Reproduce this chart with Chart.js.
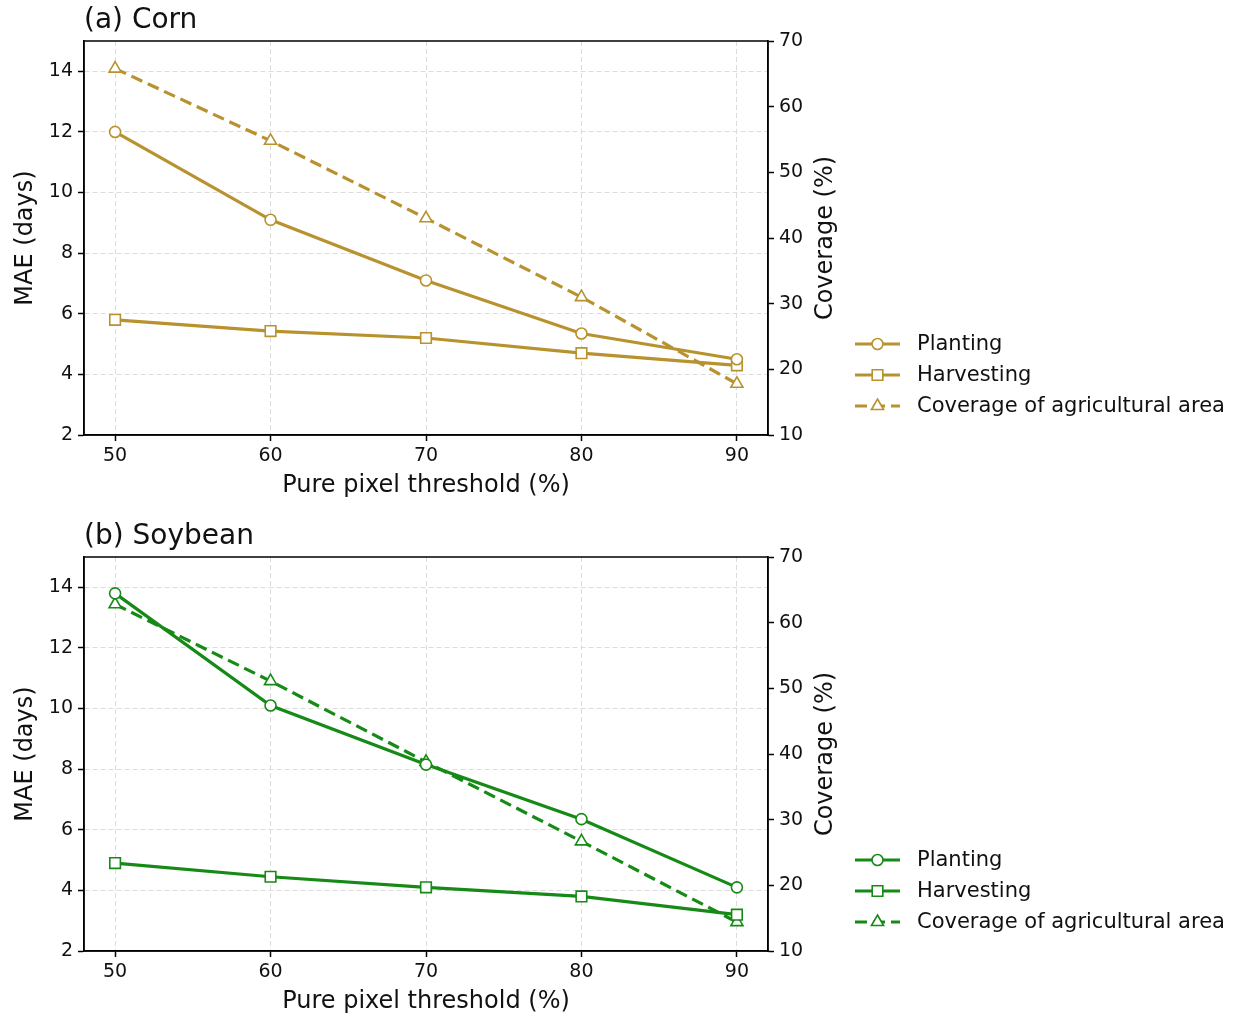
<!DOCTYPE html>
<html>
<head>
<meta charset="utf-8">
<script src="https://cdn.jsdelivr.net/npm/chart.js@4.4.1/dist/chart.umd.min.js"></script>
<style>
  body { margin: 0; background: #fff; }
  canvas { display: block; }
</style>
</head>
<body>
<canvas id="graficoMaiz" width="1241" height="516"></canvas>
<canvas id="graficoSoja" width="1241" height="504"></canvas>
<script>
// Datos
const umbrales = [50, 60, 70, 80, 90];

const maizSiembra = [12.0, 9.1, 7.1, 5.35, 4.5];
const maizCosecha = [5.8, 5.43, 5.2, 4.7, 4.3];
const maizCobertura = [65.8, 54.8, 43.0, 31.0, 17.8];

const sojaSiembra = [13.8, 10.1, 8.15, 6.35, 4.1];
const sojaCosecha = [4.9, 4.45, 4.1, 3.8, 3.2];
const sojaCobertura = [62.8, 51.1, 38.8, 26.7, 14.4];

const ticksMae = [2, 4, 6, 8, 10, 12, 14];
const ticksCobertura = [10, 20, 30, 40, 50, 60, 70];

const FUENTE = "'DejaVu Sans', sans-serif";
const COLOR_MAIZ = '#b8922e';
const COLOR_SOJA = '#168a16';

// Une x e y para el eje lineal
function puntos(valores){
    return umbrales.map((u, i) => ({ x: u, y: valores[i] }));
}

// Título del panel, título del eje derecho y marco completo
const pluginMarco = {
    id: 'marco',
    afterDraw(chart, args, opts){
        const { ctx, chartArea } = chart;
        ctx.save();
        ctx.setLineDash([]);
        ctx.strokeStyle = '#000';
        ctx.lineWidth = 1.5;
        ctx.strokeRect(chartArea.left, chartArea.top, chartArea.right - chartArea.left, chartArea.bottom - chartArea.top);
        ctx.fillStyle = '#111';
        ctx.font = `28px ${FUENTE}`;
        ctx.textBaseline = 'middle';
        ctx.textAlign = 'left';
        ctx.fillText(opts.texto, chartArea.left, chartArea.top - 20);

        // como en matplotlib, el texto del eje derecho se lee de abajo a arriba
        ctx.translate(chartArea.right + 58, (chartArea.top + chartArea.bottom) / 2);
        ctx.rotate(-Math.PI / 2);
        ctx.textAlign = 'center';
        ctx.font = `24px ${FUENTE}`;
        ctx.fillText('Coverage (%)', 0, 0);
        ctx.restore();
    }
};

// Leyenda estilo matplotlib (línea + marcador)
const pluginLeyenda = {
    id: 'leyendaLinea',
    afterDraw(chart){
        const { ctx, chartArea } = chart;
        const x0 = chartArea.right + 87;
        const x1 = x0 + 45;
        chart.data.datasets.forEach((ds, i) => {
            const y = chartArea.bottom - 91 + i * 31;
            ctx.save();
            ctx.strokeStyle = ds.borderColor;
            ctx.lineWidth = ds.borderWidth;
            ctx.setLineDash(ds.borderDash || []);
            ctx.beginPath();
            ctx.moveTo(x0, y);
            ctx.lineTo(x1, y);
            ctx.stroke();
            ctx.setLineDash([]);
            ctx.fillStyle = '#fff';
            ctx.strokeStyle = ds.borderColor;
            ctx.lineWidth = ds.pointBorderWidth;
            Chart.helpers.drawPoint(ctx, {
                pointStyle: ds.pointStyle,
                radius: ds.pointRadius,
                borderWidth: ds.pointBorderWidth,
                rotation: 0
            }, (x0 + x1) / 2, y);
            ctx.fillStyle = '#111';
            ctx.font = `21px ${FUENTE}`;
            ctx.textBaseline = 'middle';
            ctx.textAlign = 'left';
            ctx.fillText(ds.label, x1 + 17, y + 1);
            ctx.restore();
        });
    }
};

function crearGrafico(idCanvas, titulo, color, siembra, cosecha, cobertura){
    const canvas = document.getElementById(idCanvas);
    const ctx = canvas.getContext('2d');
    // el área del gráfico termina siempre en y = 435 dentro de su lienzo
    const altoEjeX = canvas.height - 435;
    const base = {
        borderColor: color,
        borderWidth: 3.2,
        pointBackgroundColor: '#fff',
        pointBorderColor: color,
        pointBorderWidth: 1.6,
        tension: 0,
        fill: false
    };
    const rejilla = {
        color: '#dcdcdc',
        lineWidth: 1,
        tickColor: '#000',
        tickLength: 6,
        tickWidth: 1.5,
        tickBorderDash: []
    };
    const borde = { display: true, color: '#000', width: 1.5, dash: [5, 3] };

    return new Chart(ctx, {
        type: 'line',
        data: {
            datasets: [
                { ...base, label: 'Planting', data: puntos(siembra), yAxisID: 'y',
                  pointStyle: 'circle', pointRadius: 5.5 },
                { ...base, label: 'Harvesting', data: puntos(cosecha), yAxisID: 'y',
                  pointStyle: 'rect', pointRadius: 7.5 },
                { ...base, label: 'Coverage of agricultural area', data: puntos(cobertura), yAxisID: 'y2',
                  pointStyle: 'triangle', pointRadius: 7, borderDash: [12, 6] }
            ]
        },
        options: {
            responsive: false,
            animation: false,
            devicePixelRatio: 1,
            layout: { padding: { top: 41, left: 0, right: 389, bottom: 0 } },
            plugins: {
                legend: { display: false },
                tooltip: { enabled: false },
                marco: { texto: titulo }
            },
            scales: {
                x: {
                    type: 'linear',
                    min: 48, max: 92,
                    afterBuildTicks: s => { s.ticks = umbrales.map(v => ({ value: v })); },
                    afterFit: s => { s.height = altoEjeX; },
                    ticks: { font: { family: FUENTE, size: 19 }, color: '#111', padding: 4 },
                    grid: rejilla,
                    border: borde,
                    title: { display: true, text: 'Pure pixel threshold (%)', color: '#111',
                             font: { family: FUENTE, size: 24 },
                             padding: { top: 0, bottom: altoEjeX - 51 - 14 } }
                },
                y: {
                    position: 'left',
                    min: 2, max: 15,
                    afterBuildTicks: s => { s.ticks = ticksMae.map(v => ({ value: v })); },
                    afterFit: s => { s.width = 84; },
                    ticks: { font: { family: FUENTE, size: 19 }, color: '#111', padding: 5 },
                    grid: rejilla,
                    border: borde,
                    title: { display: true, text: 'MAE (days)', color: '#111',
                             font: { family: FUENTE, size: 24 }, padding: { top: 11, bottom: 0 } }
                },
                y2: {
                    position: 'right',
                    min: 10, max: 70,
                    afterBuildTicks: s => { s.ticks = ticksCobertura.map(v => ({ value: v })); },
                    afterFit: s => { s.width = 84; },
                    ticks: { font: { family: FUENTE, size: 19 }, color: '#111', padding: 5 },
                    grid: { ...rejilla, drawOnChartArea: false },
                    border: { display: true, color: '#000', width: 1.5 },
                    title: { display: false }
                }
            }
        },
        plugins: [pluginMarco, pluginLeyenda]
    });
}

crearGrafico('graficoMaiz', '(a) Corn', COLOR_MAIZ, maizSiembra, maizCosecha, maizCobertura);
crearGrafico('graficoSoja', '(b) Soybean', COLOR_SOJA, sojaSiembra, sojaCosecha, sojaCobertura);
</script>
</body>
</html>
